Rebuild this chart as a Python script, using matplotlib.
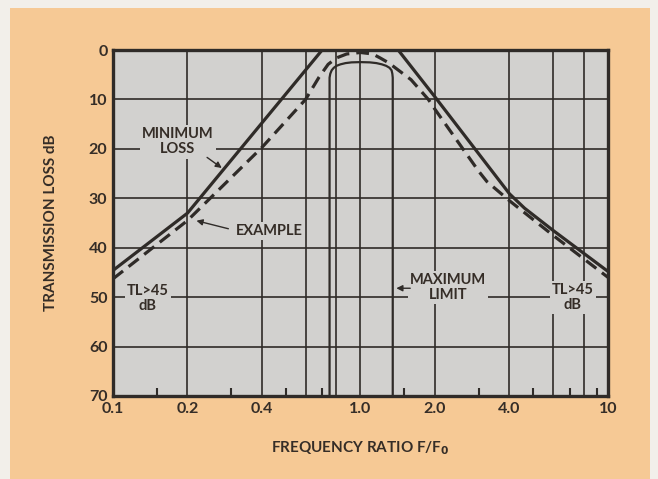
import matplotlib.pyplot as plt
from matplotlib.patches import Rectangle

# Datos (relacion de frecuencia, perdida en dB)
min_loss_f = [0.1, 0.2, 0.7, 1.42, 2.0, 4.0, 4.6, 6.0, 10.0]
min_loss_db = [44.6, 33.0, 0.0, 0.0, 9.5, 29.1, 32.0, 36.5, 44.8]

example_f = [0.1, 0.2, 0.4, 0.6, 0.68, 0.74, 0.8, 0.88, 1.0, 1.12, 1.2, 1.3, 1.6, 1.88, 2.0, 3.0, 3.24, 4.0, 6.0, 10.0]
example_db = [46.3, 34.5, 19.7, 10.0, 5.5, 2.9, 1.6, 0.8, 0.5, 0.8, 1.6, 2.6, 6.0, 10.0, 12.0, 24.5, 26.6, 30.5, 37.5, 46.0]

limit_f = [0.75, 0.75, 0.755, 0.765, 0.78, 0.80, 0.83, 0.87, 0.92, 1.0, 1.09, 1.16, 1.22, 1.27, 1.31, 1.335, 1.345, 1.35, 1.35]
limit_db = [70, 5.6, 4.8, 4.1, 3.6, 3.2, 2.9, 2.65, 2.5, 2.45, 2.5, 2.65, 2.9, 3.2, 3.6, 4.1, 4.8, 5.6, 70]

grid_x = [0.2, 0.4, 0.6, 0.8, 1.0, 2.0, 4.0, 6.0, 8.0]
grid_y = [10, 20, 30, 40, 50, 60]
xtick_vals = [0.1, 0.2, 0.4, 1.0, 2.0, 4.0, 10.0]
xtick_labels = ['0.1', '0.2', '0.4', '1.0', '2.0', '4.0', '10']
minor_x = [0.15, 0.3, 0.5, 0.7, 1.5, 3.0, 5.0, 7.0, 9.0]
ytick_vals = [0, 10, 20, 30, 40, 50, 60, 70]

peach = '#f6c995'
panel = '#d2d1cf'
ink = '#2f2b28'
txt = '#352d27'

plt.rcParams['font.family'] = ['Lato', 'DejaVu Sans']
plt.rcParams['font.weight'] = 'bold'

fig = plt.figure(figsize=(6.58, 4.79), dpi=100, facecolor='#f2efea')
fig.add_artist(Rectangle((0.0152, 0.0), 0.9726, 0.9833, transform=fig.transFigure,
                         facecolor=peach, edgecolor='none', zorder=-10))
ax = fig.add_axes([0.1717, 0.1733, 0.7523, 0.7223])
ax.set_facecolor(panel)

ax.set_xscale('log')
ax.set_xlim(0.1, 10)
ax.set_ylim(70, 0)

# rejilla
for gx in grid_x:
    ax.axvline(gx, color=ink, lw=1.2, zorder=1)
for gy in grid_y:
    ax.axhline(gy, color=ink, lw=1.2, zorder=1)

# curvas
ax.plot(min_loss_f, min_loss_db, color=ink, lw=2.3, zorder=3, solid_joinstyle='round')
ax.plot(example_f, example_db, color=ink, lw=2.3, dashes=(4.0, 2.2), zorder=3)
ax.plot(limit_f, limit_db, color=ink, lw=1.6, zorder=3)

# etiquetas
box = dict(facecolor=panel, edgecolor='none', pad=1.5)
fs = 10.5
ax.text(0.183, 18.6, 'MINIMUM\nLOSS', ha='center', va='center', fontsize=fs,
        color=txt, bbox=box, zorder=2, linespacing=1.1)
ax.annotate('', xy=(0.281, 24.2), xytext=(0.235, 21.4),
            arrowprops=dict(arrowstyle='-|>', color=ink, lw=1.0, mutation_scale=9), zorder=4)
ax.text(0.43, 36.6, 'EXAMPLE', ha='center', va='center', fontsize=fs,
        color=txt, bbox=box, zorder=2)
ax.annotate('', xy=(0.212, 34.4), xytext=(0.30, 36.3),
            arrowprops=dict(arrowstyle='-|>', color=ink, lw=1.0, mutation_scale=9), zorder=4)
ax.text(2.26, 48.0, 'MAXIMUM\nLIMIT', ha='center', va='center', fontsize=fs,
        color=txt, bbox=box, zorder=2, linespacing=1.1)
ax.annotate('', xy=(1.36, 48.2), xytext=(1.63, 48.2),
            arrowprops=dict(arrowstyle='-|>', color=ink, lw=1.0, mutation_scale=9), zorder=4)
ax.text(0.138, 50.2, 'TL>45\ndB', ha='center', va='center', fontsize=fs,
        color=txt, bbox=box, zorder=2, linespacing=1.1)
ax.text(7.22, 50.0, 'TL>45\ndB', ha='center', va='center', fontsize=fs,
        color=txt, bbox=box, zorder=2, linespacing=1.1)

# ejes
ax.set_xticks(xtick_vals, xtick_labels)
ax.set_xticks(minor_x, minor=True)
ax.xaxis.set_minor_formatter(plt.NullFormatter())
ax.set_yticks(ytick_vals)
ax.tick_params(axis='both', which='major', length=0, labelsize=11.5, colors=txt, pad=4)
ax.tick_params(axis='x', which='minor', direction='in', length=6, width=1.5, color=ink)
for sp in ax.spines.values():
    sp.set_linewidth(2.4)
    sp.set_color(ink)
    sp.set_zorder(5)

ax.set_xlabel('FREQUENCY RATIO F/F$_\\mathbf{0}$', fontsize=11, fontweight='bold',
              color=txt, labelpad=17)
ax.set_ylabel('TRANSMISSION LOSS dB', fontsize=11, fontweight='bold', color=txt, labelpad=22)

fig.savefig('out.png', dpi=100, facecolor=fig.get_facecolor())
